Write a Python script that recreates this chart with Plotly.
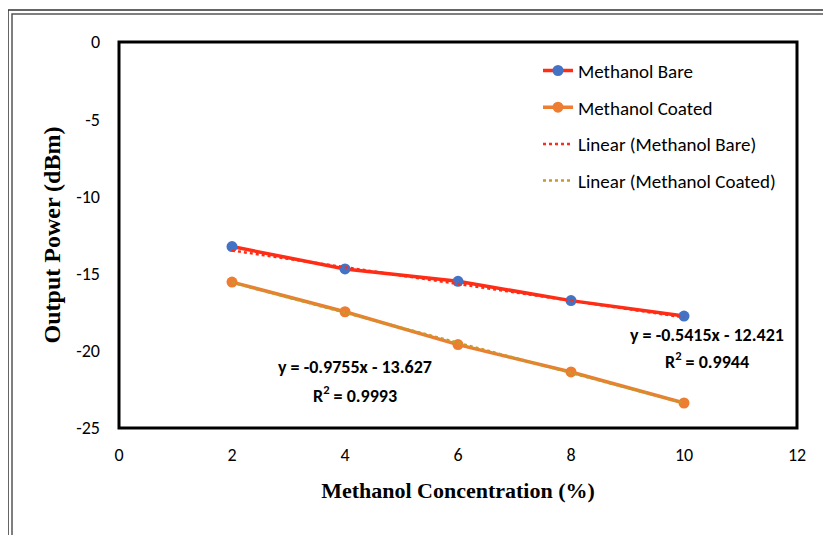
import plotly.graph_objects as go

conc = [2, 4, 6, 8, 10]
bare = [-13.25, -14.7, -15.5, -16.75, -17.75]
coated = [-15.55, -17.47, -19.6, -21.37, -23.38]
bare_fit = (-0.5415, -12.421)
coated_fit = (-0.9755, -13.627)
x_ticks = [0, 2, 4, 6, 8, 10, 12]
y_ticks = [0, -5, -10, -15, -20, -25]
y_tick_text = ["0", "-5", "-10", "-15", "-20", "-25"]

OFF = 8  # page body margin
W, H = 831 - OFF, 535 - OFF
# plot area in page pixels
PL, PR, PT, PB = 119, 797, 42, 428
L, R, T, B = PL - OFF, PR - OFF, PT - OFF, PB - OFF

def px(x):
    return (x - OFF - L) / (R - L)

def py(y):
    return (B - (y - OFF)) / (B - T)

sans = "Carlito, Lato, Open Sans, Noto Sans"
tick_font = dict(family=sans, size=18, color="black")
serif = "Liberation Serif, Times New Roman, serif"

fig = go.Figure()
fig.add_trace(go.Scatter(x=conc, y=bare, mode="lines+markers", name="Methanol Bare",
                         line=dict(color="#FF2D16", width=3.5),
                         marker=dict(color="#4472C4", size=11), legendgroup="a"))
fig.add_trace(go.Scatter(x=conc, y=coated, mode="lines+markers", name="Methanol Coated",
                         line=dict(color="#ED7D31", width=3.5),
                         marker=dict(color="#ED7D31", size=11), legendgroup="b"))
fx = [conc[0], conc[-1]]
fig.add_trace(go.Scatter(x=fx, y=[bare_fit[0] * v + bare_fit[1] for v in fx], mode="lines",
                         name="Linear (Methanol Bare)",
                         line=dict(color="#FF2D16", width=2.5, dash="dot"), legendgroup="c"))
fig.add_trace(go.Scatter(x=fx, y=[coated_fit[0] * v + coated_fit[1] for v in fx], mode="lines",
                         name="Linear (Methanol Coated)",
                         line=dict(color="#C49A2C", width=2.5, dash="dot"), legendgroup="d"))

ann_font = dict(family=sans, size=18, color="black")
fig.add_annotation(x=4.18, y=-21.05, text="<b>y = -0.9755x - 13.627</b>", showarrow=False,
                   font=ann_font, xanchor="center", yanchor="middle")
fig.add_annotation(x=4.18, y=-22.8, text="<b>R<sup>2</sup> = 0.9993</b>", showarrow=False,
                   font=ann_font, xanchor="center", yanchor="middle")
fig.add_annotation(x=10.41, y=-18.98, text="<b>y = -0.5415x - 12.421</b>", showarrow=False,
                   font=ann_font, xanchor="center", yanchor="middle")
fig.add_annotation(x=10.41, y=-20.66, text="<b>R<sup>2</sup> = 0.9944</b>", showarrow=False,
                   font=ann_font, xanchor="center", yanchor="middle")

# outer double frame
for a, c in [(8, "#333333"), (12, "#555555")]:
    fig.add_shape(type="rect", xref="paper", yref="paper",
                  x0=px(a), x1=px(831 + 20), y0=py(a + 2), y1=py(535 + 20),
                  line=dict(color=c, width=1.5), layer="below")
# plot frame
fig.add_shape(type="rect", xref="paper", yref="paper", x0=0, x1=1, y0=0, y1=1,
              line=dict(color="black", width=3))

fig.update_layout(
    width=W, height=H,
    margin=dict(l=L, r=W - R, t=T, b=H - B, autoexpand=False),
    paper_bgcolor="white", plot_bgcolor="white",
    showlegend=True,
    legend=dict(x=0.618, y=0.975, xanchor="left", yanchor="top",
                font=dict(family=sans, size=19, color="black"),
                bgcolor="rgba(0,0,0,0)", tracegroupgap=9, traceorder="grouped"),
    xaxis=dict(range=[0, 12], tickvals=x_ticks, showgrid=False, zeroline=False,
               ticks="", tickfont=tick_font, ticklabelstandoff=14, automargin=False,
               title=dict(text="<b>Methanol Concentration (%)</b>",
                          font=dict(family=serif, size=22, color="black"), standoff=17)),
    yaxis=dict(range=[-25, 0], tickvals=y_ticks, ticktext=y_tick_text, showgrid=False,
               zeroline=False, ticks="", tickfont=tick_font, ticklabelstandoff=18,
               automargin=False,
               title=dict(text="<b>Output Power (dBm)</b>",
                          font=dict(family=serif, size=24, color="black"), standoff=8)),
)

fig.write_html("out.html")
